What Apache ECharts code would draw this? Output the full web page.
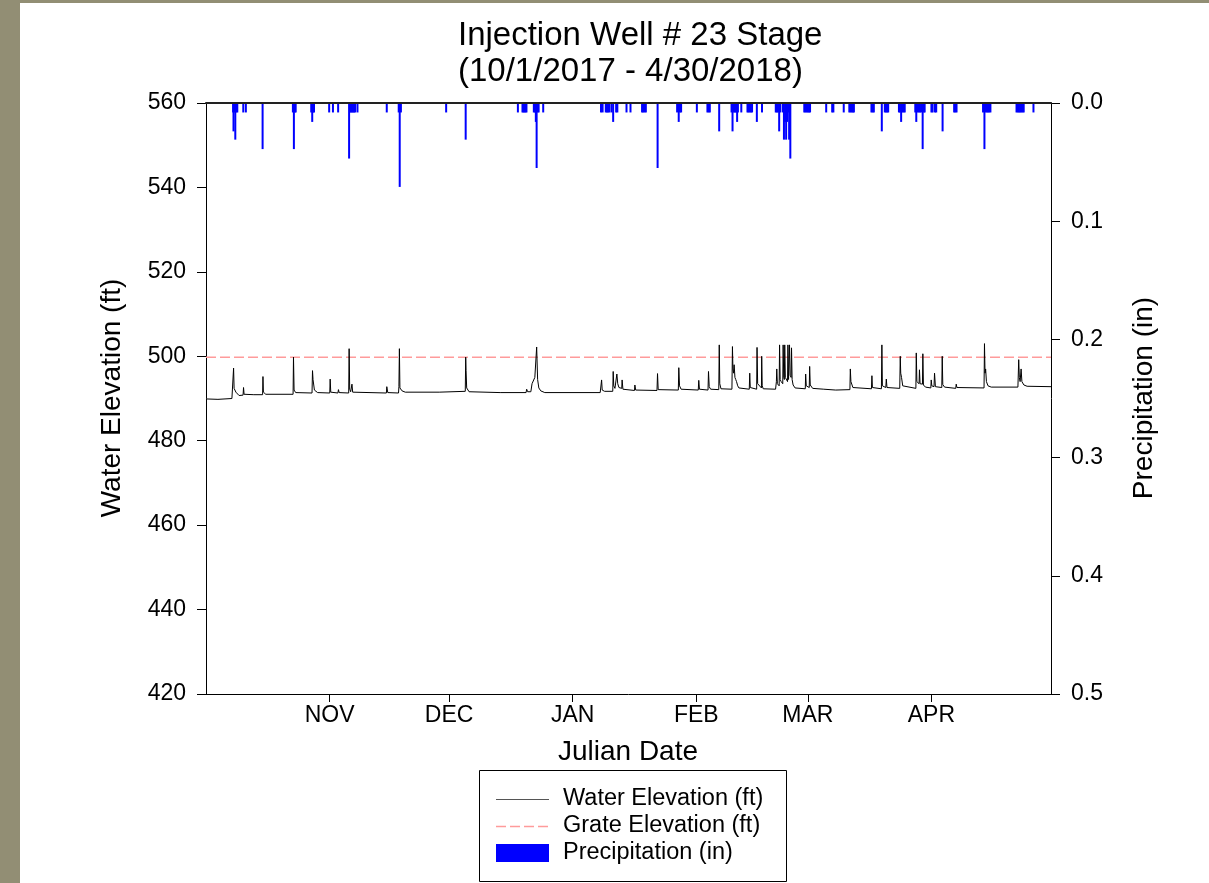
<!DOCTYPE html>
<html>
<head>
    <meta charset="utf-8">
    <title>Injection Well # 23 Stage</title>
    <script src="https://cdn.jsdelivr.net/npm/echarts@6.0.0/dist/echarts.min.js"></script>
    <style>
        body { margin: 0; background: #928e74; }
        #panel { position: absolute; left: 20px; top: 3px; right: 0; bottom: 0; background: #fff; }
        #main { position: absolute; left: 0; top: 0; width: 1209px; height: 883px; }
    </style>
</head>
<body>
<div id="panel"></div>
<div id="main"></div>

<script>
    // x = days since 10/1/2017
    var monthDays = [31, 61, 92, 123, 151, 182];
    var monthLabels = ['NOV', 'DEC', 'JAN', 'FEB', 'MAR', 'APR'];
    var gratePoints = [[0, 499.75], [212, 499.75]];

    var waterDay = [0, 3, 6.5, 6.8, 6.92, 7.05, 7.2, 7.5, 7.8, 8.3, 9.3, 9.42, 9.55, 12, 14.2, 14.29, 14.4, 15,
        21.85, 21.95, 22.1, 22.5, 26.6, 26.72, 26.85, 27.2, 28, 31.05, 31.15, 31.3, 33.1, 33.23, 33.4,
        35.8, 35.91, 36.05, 36.3, 36.55, 36.62, 36.8, 45.25, 45.36, 45.6, 48.3, 48.4, 48.52, 48.65, 49.2, 50,
        58.5, 59, 65.05, 65.16, 65.25, 65.4, 66, 73.8, 80.3, 80.45, 80.7, 81.5, 81.8, 82.5, 82.96, 83.2, 83.5, 84, 85,
        98.9, 99.25, 99.4, 100, 102.05, 102.16, 102.3, 102.6, 102.95, 103.08, 103.3, 103.6, 104.3, 104.4, 104.6,
        107.5, 107.6, 107.8, 113.15, 113.28, 113.45, 118.5, 118.62, 118.8, 119.2, 123.5, 123.63, 123.8,
        125.95, 126.07, 126.25, 126.6, 128.65, 128.77, 128.9, 129.2, 131.95, 132.08, 132.2, 132.35, 132.5, 132.7,
        132.9, 133.1, 133.4, 133.7, 136.3, 136.42, 136.55, 138.15, 138.25, 138.4, 139.35, 139.42, 139.55, 139.8,
        142.9, 143.1, 143.2, 143.35, 143.8, 143.9, 144.05, 144.3, 144.7, 144.8, 144.95, 145.1, 145.2, 145.35,
        145.6, 145.9, 146.0, 146.15, 146.3, 146.4, 146.55, 146.8, 146.9, 147.05, 147.3, 147.8,
        150.35, 150.45, 150.6, 151.35, 151.45, 151.6, 152.2, 155, 158, 161.55, 161.65, 161.8, 162.3,
        166.95, 167.07, 167.2, 169.45, 169.57, 169.7, 170.55, 170.68, 170.85, 174.05, 174.18, 174.3, 174.5, 174.8,
        175.2, 178.1, 178.2, 178.35, 178.9, 179.0, 179.15, 179.75, 179.85, 180.0, 180.5, 181.85, 181.95, 182.1,
        182.65, 182.78, 183.0, 184.6, 184.71, 184.85, 185.3, 188.1, 188.22, 188.4, 195.2, 195.31, 195.45, 195.6,
        195.8, 196.2, 197, 203.7, 203.9, 204.05, 204.25, 204.5, 204.7, 205.2, 206, 212];
    var waterFt = [489.9, 489.8, 490.0, 490.3, 497.2, 492.4, 492.1, 491.5, 491.2, 490.7, 490.8, 492.6, 491.0, 490.9, 490.9, 495.2, 491.5, 491.0,
        491.0, 499.8, 492.0, 491.4, 491.3, 496.6, 494.5, 492.0, 491.4, 491.3, 494.6, 491.5, 491.3, 492.1, 491.4,
        491.3, 501.8, 492.2, 491.6, 491.6, 493.4, 491.5, 491.3, 492.8, 491.4, 491.3, 492.8, 501.8, 492.5, 491.8, 491.5,
        491.5, 491.7, 491.7, 499.8, 496.6, 492.5, 491.6, 491.4, 491.4, 492.2, 491.6, 491.6, 493.5, 495.0, 502.2, 494.5, 492.5, 491.8, 491.4,
        491.4, 494.4, 492.0, 491.7, 491.7, 496.4, 493.0, 492.4, 492.8, 495.8, 493.5, 492.6, 492.4, 494.4, 492.2,
        491.9, 493.2, 492.0, 491.9, 495.9, 492.1, 492.0, 497.3, 493.0, 492.2, 492.0, 494.3, 492.2,
        492.0, 496.4, 492.8, 492.2, 492.1, 502.7, 493.5, 492.3, 492.2, 502.3, 497.0, 496.0, 498.0, 495.0,
        494.5, 494.0, 493.0, 492.5, 492.2, 496.0, 492.6, 492.2, 502.1, 493.5, 492.5, 500.0, 493.0, 492.3,
        492.2, 494.0, 497.0, 493.5, 493.0, 502.7, 494.5, 494.0, 493.5, 502.7, 495.0, 494.5, 502.7, 495.0,
        495.0, 494.0, 502.7, 494.5, 494.5, 502.7, 495.5, 495.0, 502.0, 494.5, 493.2, 492.5,
        492.3, 495.8, 493.0, 492.6, 497.6, 493.2, 492.4, 492.2, 492.0, 492.1, 497.0, 494.0, 492.6,
        492.3, 495.4, 492.6, 492.3, 502.7, 493.0, 492.6, 494.6, 492.6, 492.4, 500.0, 496.0, 495.0, 493.0,
        492.6, 492.4, 500.8, 494.0, 493.5, 496.8, 493.5, 493.4, 500.6, 493.2, 492.7, 492.5, 494.4, 493.0,
        492.8, 496.0, 492.8, 492.6, 500.0, 493.3, 492.7, 492.4, 493.4, 492.6, 492.5, 503.0, 496.0, 497.0,
        494.0, 493.0, 492.7, 492.7, 499.2, 495.0, 494.0, 497.0, 494.0, 493.2, 492.9, 492.8];

    var precipDay = [6.8, 6.9, 7.1, 7.35, 7.6, 7.85, 9.35, 10.0, 14.2, 21.8, 22.05, 22.3, 22.5, 26.4, 26.65, 26.9, 27.1,
        30.9, 31.85, 33.15, 35.9, 36.15, 36.4, 36.65, 36.9, 37.15, 37.4, 38.0, 45.35, 48.35, 48.6, 48.9, 60.25, 65.15,
        78.25, 79.4, 79.65, 79.9, 80.15, 80.4, 82.25, 82.5, 82.75, 82.95, 83.2, 83.45, 84.6,
        99.1, 99.5, 100.3, 100.6, 100.9, 101.2, 101.75, 102.15, 102.9, 103.2, 105.5, 106.5, 109.4, 109.7, 110.0, 110.35,
        113.3, 118.2, 118.6, 118.9, 119.2, 123.15, 125.8, 126.1, 126.4, 128.75,
        131.85, 132.1, 132.35, 132.6, 132.85, 133.1, 133.25, 133.45, 134.3, 135.85, 136.1, 136.4, 136.7, 137.0, 138.2, 139.5,
        142.95, 143.2, 143.5, 143.8, 144.1, 144.75, 145.0, 145.3, 145.55, 145.8, 146.1, 146.3, 146.6,
        150.1, 150.4, 150.7, 151.0, 151.3, 151.55, 155.6, 157.1, 157.4, 160.0, 161.4, 161.7, 162.0, 162.3, 162.55,
        166.95, 167.25, 167.55, 169.55, 170.3, 170.6, 170.9, 171.15, 173.85, 174.1, 174.4, 174.7, 175.0, 175.3,
        177.95, 178.2, 178.5, 178.8, 179.1, 179.4, 179.8, 180.1, 180.3, 182.0, 182.3, 182.9, 183.2, 184.8,
        187.7, 188.0, 188.3, 194.95, 195.3, 195.6, 195.9, 196.2, 196.5, 196.8,
        203.35, 203.65, 203.95, 204.25, 204.55, 204.85, 205.15, 207.6];
    var precipIn = [0.008, 0.024, 0.008, 0.031, 0.008, 0.008, 0.008, 0.008, 0.039, 0.008, 0.039, 0.008, 0.008, 0.008, 0.016, 0.008, 0.008,
        0.008, 0.008, 0.008, 0.047, 0.008, 0.008, 0.008, 0.008, 0.008, 0.008, 0.008, 0.008, 0.008, 0.071, 0.008, 0.008, 0.031,
        0.008, 0.008, 0.008, 0.008, 0.008, 0.008, 0.008, 0.008, 0.016, 0.055, 0.008, 0.008, 0.008,
        0.008, 0.008, 0.008, 0.008, 0.008, 0.008, 0.008, 0.016, 0.008, 0.008, 0.008, 0.008, 0.008, 0.008, 0.008, 0.008,
        0.055, 0.008, 0.016, 0.008, 0.008, 0.008, 0.008, 0.008, 0.008, 0.024,
        0.008, 0.024, 0.008, 0.008, 0.008, 0.008, 0.016, 0.008, 0.008, 0.008, 0.008, 0.008, 0.008, 0.008, 0.016, 0.008,
        0.008, 0.008, 0.008, 0.024, 0.008, 0.008, 0.031, 0.016, 0.031, 0.016, 0.008, 0.031, 0.047,
        0.008, 0.008, 0.008, 0.008, 0.008, 0.008, 0.008, 0.008, 0.008, 0.008, 0.008, 0.008, 0.008, 0.008, 0.008,
        0.008, 0.008, 0.008, 0.024, 0.008, 0.008, 0.008, 0.008, 0.008, 0.008, 0.016, 0.008, 0.008, 0.008,
        0.008, 0.016, 0.008, 0.008, 0.008, 0.008, 0.039, 0.008, 0.008, 0.008, 0.008, 0.008, 0.008, 0.024,
        0.008, 0.008, 0.008, 0.008, 0.039, 0.008, 0.008, 0.008, 0.008, 0.008,
        0.008, 0.008, 0.008, 0.008, 0.008, 0.008, 0.008, 0.008];

    var font = 'Liberation Sans, Arial, sans-serif';

    var myChart = echarts.init(document.getElementById('main'), null, {renderer: 'canvas'});

    var option = {
        backgroundColor: 'transparent',
        animation: false,
        title: {
            text: 'Injection Well # 23 Stage\n(10/1/2017 - 4/30/2018)',
            left: 458,
            top: 18,
            padding: 0,
            textStyle: {fontFamily: font, fontSize: 33, fontWeight: 'normal', color: '#000', lineHeight: 36}
        },
        grid: {left: 206, right: 158, top: 103, bottom: 189, containLabel: false, outerBoundsMode: 'none'},
        xAxis: [{
            type: 'value',
            min: 0,
            max: 212,
            position: 'bottom',
            axisLine: {onZero: false, lineStyle: {color: '#000', width: 1}},
            axisTick: {customValues: monthDays, length: 8, lineStyle: {color: '#000'}},
            axisLabel: {
                customValues: monthDays,
                formatter: function (v) { return monthLabels[monthDays.indexOf(v)]; },
                fontFamily: font, fontSize: 23, color: '#000', margin: 10
            },
            splitLine: {show: false}
        }, {
            type: 'value',
            min: 0,
            max: 212,
            position: 'top',
            z: 10,
            axisLine: {onZero: false, lineStyle: {color: '#222', width: 2}},
            axisTick: {show: false},
            axisLabel: {show: false},
            splitLine: {show: false}
        }],
        yAxis: [{
            type: 'value',
            min: 420,
            max: 560,
            interval: 20,
            position: 'left',
            axisLine: {show: true, onZero: false, lineStyle: {color: '#000', width: 1}},
            axisTick: {show: true, length: 9, lineStyle: {color: '#000'}},
            axisLabel: {fontFamily: font, fontSize: 23, color: '#000', margin: 20},
            splitLine: {show: false}
        }, {
            type: 'value',
            min: 0,
            max: 0.5,
            interval: 0.1,
            inverse: true,
            position: 'right',
            axisLine: {show: true, onZero: false, lineStyle: {color: '#000', width: 1}},
            axisTick: {show: true, length: 9, lineStyle: {color: '#000'}},
            axisLabel: {
                formatter: function (v) { return v.toFixed(1); },
                fontFamily: font, fontSize: 23, color: '#000', margin: 20
            },
            splitLine: {show: false}
        }],
        series: [{
            name: 'Precipitation (in)',
            type: 'bar',
            xAxisIndex: 0,
            yAxisIndex: 1,
            barWidth: 2,
            itemStyle: {color: '#0000ff'},
            data: precipDay.map(function (d, i) { return [d, precipIn[i]]; })
        }, {
            name: 'Grate Elevation (ft)',
            type: 'line',
            xAxisIndex: 0,
            yAxisIndex: 0,
            symbol: 'none',
            lineStyle: {color: '#ff9b9b', width: 1.5, type: [10, 4]},
            data: gratePoints
        }, {
            name: 'Water Elevation (ft)',
            type: 'line',
            xAxisIndex: 0,
            yAxisIndex: 0,
            symbol: 'none',
            sampling: 'none',
            lineStyle: {color: '#000', width: 1},
            data: waterDay.map(function (d, i) { return [d, waterFt[i]]; })
        }],
        graphic: [
            {type: 'text', x: 112, y: 398, rotation: Math.PI / 2,
                style: {text: 'Water Elevation (ft)', font: '28px ' + font, fill: '#000', textAlign: 'center', textVerticalAlign: 'middle'}},
            {type: 'text', x: 1144, y: 398, rotation: Math.PI / 2,
                style: {text: 'Precipitation (in)', font: '28px ' + font, fill: '#000', textAlign: 'center', textVerticalAlign: 'middle'}},
            {type: 'text', x: 628, y: 752,
                style: {text: 'Julian Date', font: '28px ' + font, fill: '#000', textAlign: 'center', textVerticalAlign: 'middle'}},
            // legend box
            {type: 'rect', shape: {x: 479.5, y: 770.5, width: 307, height: 111},
                style: {fill: '#fff', stroke: '#000', lineWidth: 1}},
            {type: 'line', shape: {x1: 496, y1: 799.5, x2: 549, y2: 799.5},
                style: {stroke: '#555', lineWidth: 1}},
            {type: 'line', shape: {x1: 496, y1: 826.5, x2: 549, y2: 826.5},
                style: {stroke: '#ff9b9b', lineWidth: 1.5, lineDash: [10, 4]}},
            {type: 'rect', shape: {x: 496, y: 844, width: 53, height: 18},
                style: {fill: '#0000ff'}},
            {type: 'text', x: 563, y: 799,
                style: {text: 'Water Elevation (ft)', font: '23.5px ' + font, fill: '#000', textVerticalAlign: 'middle'}},
            {type: 'text', x: 563, y: 826,
                style: {text: 'Grate Elevation (ft)', font: '23.5px ' + font, fill: '#000', textVerticalAlign: 'middle'}},
            {type: 'text', x: 563, y: 853,
                style: {text: 'Precipitation (in)', font: '23.5px ' + font, fill: '#000', textVerticalAlign: 'middle'}}
        ]
    };

    myChart.setOption(option);
</script>
</body>
</html>
